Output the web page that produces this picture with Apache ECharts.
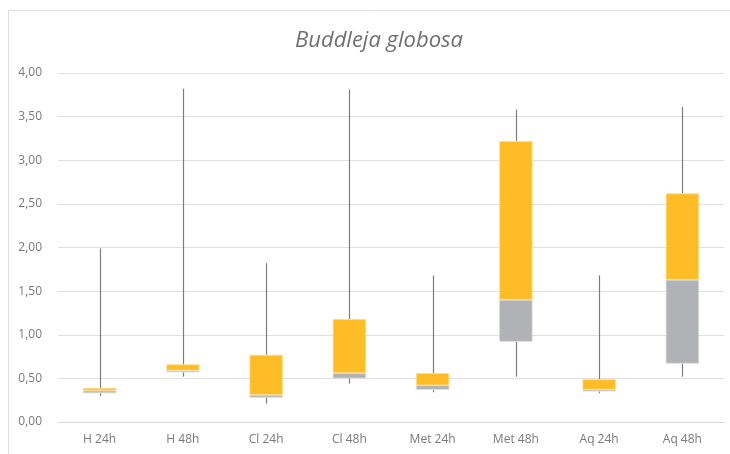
<!DOCTYPE html>
<html>
<head>
<meta charset="utf-8">
<script src="https://cdn.jsdelivr.net/npm/echarts@6/dist/echarts.min.js"></script>
<style>
  html, body { margin: 0; padding: 0; background: #fff; }
  #main { width: 730px; height: 454px; }
</style>
</head>
<body>
<div id="main"></div>
<script>
// box plot values
const categories = ['H 24h', 'H 48h', 'Cl 24h', 'Cl 48h', 'Met 24h', 'Met 48h', 'Aq 24h', 'Aq 48h'];
const minValues = [0.30, 0.52, 0.21, 0.44, 0.34, 0.52, 0.33, 0.52];
const q1Values = [0.33, 0.57, 0.28, 0.50, 0.37, 0.92, 0.35, 0.67];
const medianValues = [0.36, 0.59, 0.31, 0.56, 0.42, 1.40, 0.37, 1.63];
const q3Values = [0.39, 0.66, 0.77, 1.18, 0.56, 3.22, 0.49, 2.62];
const maxValues = [1.99, 3.82, 1.82, 3.81, 1.68, 3.58, 1.68, 3.61];

const yellow = '#FEBD27';
const grey = '#B1B2B5';

const chart = echarts.init(document.getElementById('main'));

const base = q1Values;
const lowerBox = medianValues.map((m, i) => +(m - q1Values[i]).toFixed(2));
const upperBox = q3Values.map((q, i) => +(q - medianValues[i]).toFixed(2));
const whiskers = categories.map((c, i) => [i, minValues[i], q1Values[i], q3Values[i], maxValues[i]]);

const option = {
  backgroundColor: '#fff',
  animation: false,
  title: {
    text: 'Buddleja globosa',
    left: 374,
    textAlign: 'center',
    top: 25,
    textStyle: {
      fontFamily: 'Open Sans',
      fontStyle: 'italic',
      fontWeight: 'normal',
      fontSize: 22,
      color: '#707070',
    },
  },
  graphic: [
    {
      type: 'rect',
      shape: { x: 8.5, y: 10.5, width: 740, height: 460 },
      style: { fill: 'none', stroke: '#DCDCDC', lineWidth: 1 },
      silent: true,
    },
  ],
  grid: { left: 58, right: 6, top: 73, bottom: 32 },
  xAxis: {
    type: 'category',
    data: categories,
    axisLine: { lineStyle: { color: '#D9D9D9' } },
    axisTick: { show: false },
    axisLabel: { color: '#7a7a7a', fontFamily: 'Open Sans', fontSize: 12, margin: 12 },
  },
  yAxis: {
    type: 'value',
    min: 0,
    max: 4,
    interval: 0.5,
    axisLine: { show: false },
    axisTick: { show: false },
    splitLine: { lineStyle: { color: '#E0E0E0' } },
    axisLabel: {
      color: '#7a7a7a',
      fontFamily: 'Open Sans',
      fontSize: 12,
      margin: 16,
      formatter: v => v.toFixed(2).replace('.', ','),
    },
  },
  series: [
    {
      type: 'custom',
      z: 1,
      data: whiskers,
      renderItem: (params, api) => {
        const x = api.value(0);
        const pMin = api.coord([x, api.value(1)]);
        const pQ1 = api.coord([x, api.value(2)]);
        const pQ3 = api.coord([x, api.value(3)]);
        const pMax = api.coord([x, api.value(4)]);
        const lx = Math.round(pMin[0]) + 0.5;
        const style = { stroke: '#7c7c7c', lineWidth: 1.2 };
        return {
          type: 'group',
          children: [
            { type: 'line', shape: { x1: lx, y1: pQ3[1], x2: lx, y2: pMax[1] }, style },
            { type: 'line', shape: { x1: lx, y1: pMin[1], x2: lx, y2: pQ1[1] }, style },
          ],
        };
      },
    },
    {
      type: 'bar',
      stack: 'box',
      z: 2,
      data: base,
      barWidth: '40%',
      itemStyle: { color: 'transparent' },
      silent: true,
    },
    {
      type: 'bar',
      stack: 'box',
      z: 2,
      data: lowerBox,
      itemStyle: { color: grey, borderColor: '#D6D7D9', borderWidth: 0.8 },
    },
    {
      type: 'bar',
      stack: 'box',
      z: 2,
      data: upperBox,
      itemStyle: { color: yellow, borderColor: '#FFDD85', borderWidth: 0.8 },
    },
  ],
};

chart.setOption(option);
</script>
</body>
</html>
